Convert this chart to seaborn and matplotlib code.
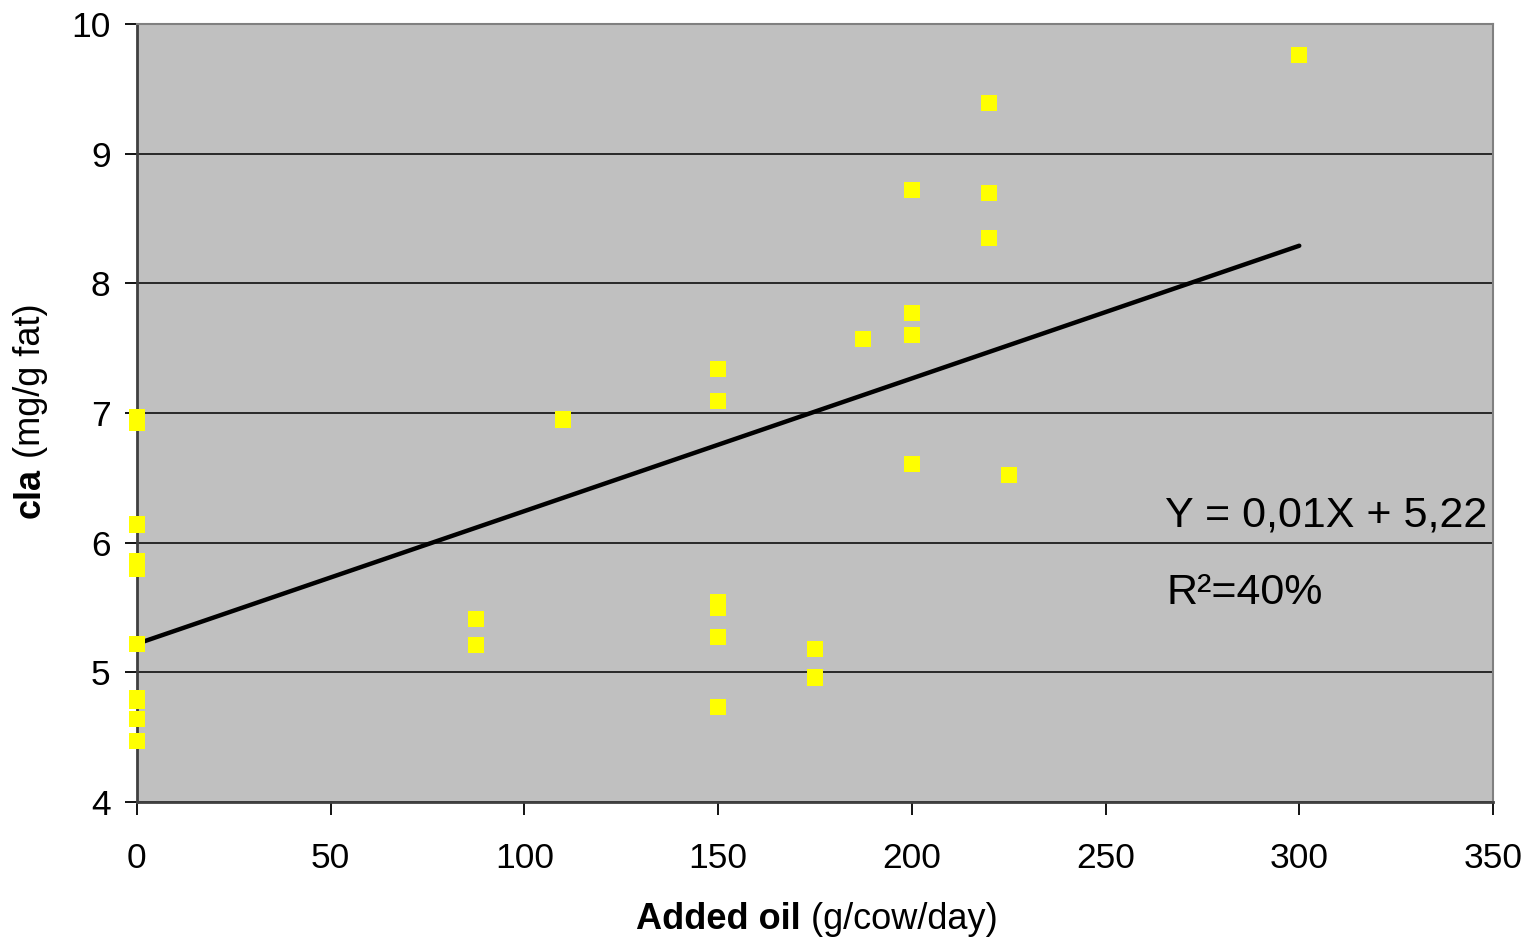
import numpy as np
import pandas as pd
import matplotlib
matplotlib.use('Agg')
import matplotlib.pyplot as plt
import seaborn as sns

# observed points (added oil in g/cow/day, cla in mg/g fat)
oil = [0, 0, 0, 0, 0, 0, 0, 0, 0, 0,
       87.5, 87.5, 110,
       150, 150, 150, 150, 150, 150,
       175, 175, 187.5,
       200, 200, 200, 200,
       220, 220, 220, 225, 300]
cla = [6.97, 6.92, 6.14, 5.86, 5.80, 5.22, 4.80, 4.78, 4.64, 4.47,
       5.41, 5.21, 6.95,
       7.34, 7.09, 5.54, 5.50, 5.27, 4.73,
       5.18, 4.96, 7.57,
       8.72, 7.77, 7.60, 6.61,
       9.39, 8.70, 8.35, 6.52, 9.76]

# fitted trend line end points
fit_x = [0, 300]
fit_y = [5.22, 8.29]

df = pd.DataFrame({'oil': oil, 'cla': cla})
fit = pd.DataFrame({'oil': fit_x, 'cla': fit_y})

sns.set_style('white')
plt.rcParams['font.family'] = ['Liberation Sans', 'DejaVu Sans']
plt.rcParams['text.color'] = 'black'

fig, ax = plt.subplots(figsize=(15.3, 9.38), dpi=100)
fig.subplots_adjust(left=0.0895, right=0.9758, top=0.9744, bottom=0.145)
ax.set_facecolor('#C0C0C0')

ax.set_axisbelow(True)
ax.yaxis.grid(True, color='black', linewidth=1.1)
ax.xaxis.grid(False)

sns.lineplot(data=fit, x='oil', y='cla', color='black', linewidth=3.2, ax=ax, zorder=2)
sns.scatterplot(data=df, x='oil', y='cla', marker='s', color='#FFFF00', s=135,
                edgecolor='none', linewidth=0, ax=ax, zorder=3, clip_on=False)

ax.set_xlim(0, 350)
ax.set_ylim(4, 10)
ax.set_xticks(range(0, 351, 50))
ax.set_yticks(range(4, 11))

for side in ['top', 'right']:
    ax.spines[side].set_color('#808080')
    ax.spines[side].set_linewidth(1.5)
for side in ['left', 'bottom']:
    ax.spines[side].set_color('#404040')
    ax.spines[side].set_linewidth(2)

ax.tick_params(axis='both', direction='out', length=9, width=1.3, colors='black',
               labelsize=25.5, left=True, bottom=True)
ax.tick_params(axis='y', pad=10)
ax.tick_params(axis='x', pad=20)

ax.set_xlabel('')
ax.set_ylabel('')

# axis labels with bold first words
xl = ax.annotate('Added oil', xy=(0.5235, 0.02), xycoords='figure fraction',
                 fontsize=26, fontweight='bold', ha='right', va='center')
ax.annotate(' (g/cow/day)', xycoords=xl, xy=(1, 0.5), fontsize=26,
            ha='left', va='center')
yl = ax.annotate('cla', xy=(0.02, 0.448), xycoords='figure fraction',
                 fontsize=26, fontweight='bold', rotation=90, ha='center', va='bottom')
ax.annotate(' (mg/g fat)', xycoords=yl, xy=(0.5, 1), fontsize=26, rotation=90,
            ha='center', va='bottom')

ax.text(265.3, 6.21, 'Y = 0,01X + 5,22', fontsize=31, ha='left', va='center')
ax.text(265.8, 5.61, 'R²=40%', fontsize=31, ha='left', va='center')

fig.savefig('out.png', dpi=100)
